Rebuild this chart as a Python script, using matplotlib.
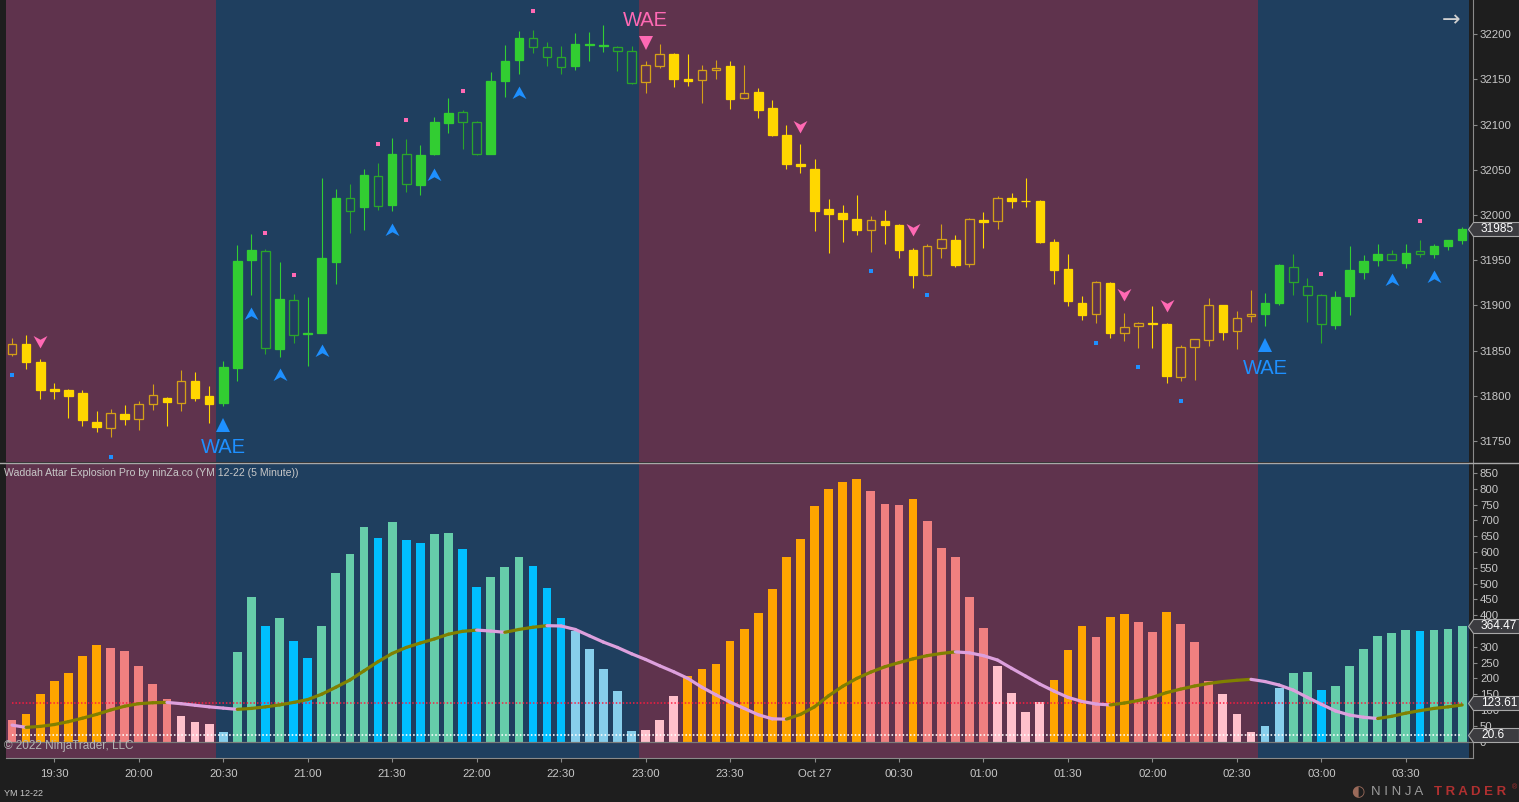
import numpy as np
import pandas as pd
import matplotlib
matplotlib.use('Agg')
import matplotlib.pyplot as plt
from matplotlib.path import Path
from matplotlib.collections import LineCollection
from matplotlib.transforms import blended_transform_factory

plt.rcParams['font.family'] = ['Liberation Sans', 'DejaVu Sans']

# ---- YM 12-22, 5 minute candles starting 19:15 ----
opens = [31846, 31857, 31837, 31808, 31806, 31803, 31771, 31764, 31780, 31774,
         31791, 31798, 31792, 31816, 31800, 31792, 31831, 31950, 31960, 31852,
         31906, 31868, 31870, 31948, 32019, 32009, 32043, 32011, 32068, 32033,
         32068, 32102, 32114, 32103, 32068, 32148, 32171, 32196, 32186, 32175,
         32165, 32188, 32187, 32186, 32182, 32147, 32165, 32178, 32151, 32149,
         32161, 32165, 32129, 32136, 32118, 32089, 32057, 32051, 32007, 32002,
         31996, 31984, 31993, 31989, 31961, 31934, 31964, 31972, 31946, 31995,
         31993, 32019, 32016, 32016, 31970, 31940, 31903, 31890, 31925, 31869,
         31877, 31881, 31880, 31821, 31854, 31862, 31900, 31872, 31888, 31890,
         31903, 31942, 31922, 31912, 31878, 31910, 31937, 31950, 31957, 31947,
         31960, 31957, 31966, 31972]
highs = [31864, 31867, 31841, 31814, 31808, 31806, 31783, 31785, 31790, 31794,
         31813, 31799, 31829, 31826, 31811, 31838, 31967, 31979, 31962, 31948,
         31913, 31909, 32041, 32029, 32034, 32051, 32058, 32085, 32084, 32077,
         32108, 32130, 32116, 32104, 32158, 32188, 32204, 32205, 32191, 32187,
         32201, 32202, 32210, 32187, 32187, 32170, 32189, 32179, 32178, 32166,
         32172, 32170, 32166, 32140, 32127, 32100, 32079, 32062, 32018, 32011,
         32022, 31999, 32006, 31990, 31964, 31968, 31990, 31978, 31997, 32003,
         32021, 32024, 32041, 32017, 31974, 31957, 31910, 31927, 31926, 31892,
         31882, 31899, 31881, 31856, 31863, 31908, 31900, 31894, 31917, 31914,
         31946, 31957, 31930, 31913, 31916, 31966, 31956, 31968, 31961, 31968,
         31972, 31968, 31972, 31987]
lows = [31844, 31830, 31797, 31797, 31775, 31767, 31760, 31754, 31768, 31762,
        31784, 31767, 31783, 31794, 31770, 31789, 31816, 31912, 31846, 31843,
        31859, 31833, 31869, 31924, 31980, 31983, 32006, 32005, 32025, 32022,
        32066, 32091, 32073, 32066, 32067, 32131, 32156, 32179, 32165, 32156,
        32160, 32170, 32180, 32159, 32145, 32135, 32163, 32142, 32143, 32124,
        32151, 32117, 32128, 32107, 32087, 32051, 32047, 31982, 31958, 31970,
        31978, 31959, 31968, 31953, 31919, 31933, 31953, 31942, 31943, 31964,
        31985, 32008, 32009, 31969, 31924, 31899, 31884, 31881, 31864, 31861,
        31853, 31853, 31814, 31816, 31817, 31855, 31862, 31852, 31882, 31877,
        31901, 31911, 31882, 31859, 31874, 31889, 31929, 31944, 31950, 31941,
        31954, 31953, 31961, 31968]
closes = [31857, 31837, 31807, 31805, 31800, 31773, 31766, 31781, 31774, 31791,
          31801, 31793, 31816, 31798, 31791, 31832, 31949, 31961, 31853, 31907,
          31867, 31869, 31953, 32019, 32005, 32044, 32010, 32067, 32034, 32066,
          32103, 32113, 32103, 32068, 32148, 32170, 32196, 32186, 32175, 32164,
          32189, 32189, 32188, 32182, 32146, 32166, 32178, 32151, 32148, 32161,
          32163, 32128, 32135, 32116, 32089, 32057, 32054, 32005, 32001, 31996,
          31983, 31995, 31989, 31961, 31934, 31966, 31973, 31945, 31996, 31992,
          32019, 32016, 32015, 31970, 31939, 31905, 31889, 31926, 31869, 31876,
          31881, 31880, 31822, 31854, 31863, 31901, 31871, 31886, 31891, 31903,
          31945, 31926, 31912, 31879, 31909, 31939, 31949, 31957, 31950, 31958,
          31957, 31966, 31972, 31985]

# trend regimes (first bar of each regime)
trend_start = [0, 15, 45, 89]
trend_dir = ['dn', 'up', 'dn', 'up']

# signal markers
blue_sq_bars = [0, 7, 61, 65, 77, 80, 83]
blue_sq_price = [31823, 31732, 31938, 31912, 31859, 31832, 31794]
pink_sq_bars = [18, 20, 26, 28, 32, 37, 93, 100]
pink_sq_price = [31980, 31934, 32079, 32105, 32137, 32226, 31935, 31993]
up_arrow_bars = [17, 19, 22, 27, 30, 36, 98, 101]
up_arrow_price = [31891, 31823, 31850, 31984, 32044, 32135, 31928, 31932]
dn_arrow_bars = [2, 56, 64, 79, 82]
dn_arrow_price = [31861, 32099, 31985, 31913, 31900]
wae_up_bars = [15, 89]
wae_up_price = [31768, 31856]
wae_dn_bars = [45]
wae_dn_price = [32190]

# WAE histogram
hist_vals = [68, 88, 150, 191, 216, 271, 306, 296, 286, 240,
             182, 134, 81, 61, 55, 30, 283, 459, 367, 390,
             318, 266, 367, 534, 595, 678, 646, 694, 638, 628,
             656, 659, 610, 489, 522, 552, 584, 555, 486, 392,
             351, 293, 230, 160, 33, 36, 68, 144, 207, 230,
             245, 319, 355, 407, 484, 583, 641, 745, 800, 821,
             831, 793, 753, 750, 768, 697, 613, 584, 457, 360,
             238, 155, 93, 126, 195, 289, 366, 332, 393, 403,
             380, 347, 410, 372, 314, 191, 150, 88, 30, 49,
             170, 216, 220, 163, 177, 238, 292, 335, 343, 352,
             350, 352, 355, 364.47]
hist_cols = list('C' 'OOOOOO' 'CCCCC' 'PPP' 'S' 'AADADDAAAADADDAADDAAADDD'
                 'SSSSS' 'PPP' 'OOOOOOOOOOOOO' 'CCC' 'O' 'CCCCC' 'PPPP' 'OOO'
                 'C' 'OO' 'CC' 'O' 'CCC' 'PPP' 'SS' 'AADAAAAAADAAA')
signal = [52, 45, 48, 54, 63, 74, 86, 100, 112, 120,
          123, 124, 120, 115, 110, 106, 102, 105, 110, 116,
          124, 133, 150, 172, 195, 224, 253, 279, 298, 312,
          325, 340, 349, 353, 350, 346, 355, 362, 367, 366,
          355, 335, 315, 298, 278, 260, 240, 221, 200, 172,
          148, 125, 105, 85, 72, 71, 86, 110, 145, 175,
          200, 220, 237, 250, 262, 272, 279, 284, 281, 272,
          258, 232, 207, 182, 160, 140, 127, 119, 116, 122,
          130, 140, 155, 166, 176, 184, 190, 194, 197, 190,
          179, 163, 140, 118, 97, 84, 77, 73, 80, 90,
          98, 105, 110, 116]
explosion_line = 123.61
dead_zone = 20.6

tick_labels = ['19:30', '20:00', '20:30', '21:00', '21:30', '22:00', '22:30', '23:00',
               '23:30', 'Oct 27', '00:30', '01:00', '01:30', '02:00', '02:30', '03:00', '03:30']

# ---- colours ----
BG = '#1e1e1e'
MAROON = '#5f334d'
NAVY = '#1f3f5f'
GOLD = '#ffd700'
GREEN = '#32cd32'
TXT = '#c8c8c8'
HCOL = {'O': '#ffa500', 'C': '#f08080', 'P': '#ffc0cb',
        'S': '#87ceeb', 'A': '#66cdaa', 'D': '#00bfff'}

n = len(closes)
times = pd.date_range('2022-10-26 19:15', periods=n, freq='5min')
hhmm = [t.strftime('%H:%M') for t in times]
tick_pos = [hhmm.index('00:00' if s == 'Oct 27' else s) for s in tick_labels]

trend = []
for k, s in enumerate(trend_start):
    e = trend_start[k + 1] if k + 1 < len(trend_start) else n
    trend += [trend_dir[k]] * (e - s)

W, H = 1519, 802
fig = plt.figure(figsize=(W / 100, H / 100), dpi=100, facecolor=BG)
L, R = 6, 1473
ax1 = fig.add_axes([L / W, 1 - 462 / H, (R - L) / W, 462 / H])
ax2 = fig.add_axes([L / W, 1 - 758 / H, (R - L) / W, (758 - 463) / H])

xl = (-0.43, 103.77)
for ax in (ax1, ax2):
    ax.set_facecolor(BG)
    ax.set_xlim(*xl)
    for k, s in enumerate(trend_start):
        e = trend_start[k + 1] - 0.5 if k + 1 < len(trend_start) else n - 0.5
        ax.axvspan(s - 0.5 if s > 0 else -1, e,
                   color=NAVY if trend_dir[k] == 'up' else MAROON, lw=0, zorder=0)
    for sp in ax.spines.values():
        sp.set_visible(False)
    ax.spines['right'].set_visible(True)
    ax.spines['right'].set_color('#8a8a8a')
    ax.yaxis.tick_right()
    ax.tick_params(axis='y', colors='#8a8a8a', labelcolor=TXT, length=3,
                   width=0.8, pad=2, labelsize=8.2)

# ---- candles ----
px = 0.72  # one pixel in points
for i in range(n):
    o, h, l, c = opens[i], highs[i], lows[i], closes[i]
    up = trend[i] == 'up'
    col = GREEN if up else GOLD
    dark = '#2aa52a' if up else '#d4a017'
    filled = (c >= o) if up else (c <= o)
    lo, hi = min(o, c), max(o, c)
    ax1.vlines(i, l, lo, color=col if filled else dark, lw=1.1 * px, zorder=3)
    ax1.vlines(i, hi, h, color=col if filled else dark, lw=1.1 * px, zorder=3)
    ax1.bar(i, max(hi - lo, 1.0), bottom=lo, width=0.61,
            color=col if filled else 'none',
            edgecolor=col if filled else dark, linewidth=1.3 * px, zorder=4)

ax1.set_ylim(31726.8, 32237.9)
ax1.set_yticks(np.arange(31750, 32201, 50))
ax1.set_xticks([])

chev_up = Path([(0, 1), (1, -0.8), (0, -0.25), (-1, -0.8), (0, 1)],
               [Path.MOVETO, Path.LINETO, Path.LINETO, Path.LINETO, Path.CLOSEPOLY])
chev_dn = Path([(0, -1), (1, 0.8), (0, 0.25), (-1, 0.8), (0, -1)],
               [Path.MOVETO, Path.LINETO, Path.LINETO, Path.LINETO, Path.CLOSEPOLY])

ax1.plot(blue_sq_bars, blue_sq_price, 's', ms=3.4, color='#1e90ff', mew=0, zorder=5)
ax1.plot(pink_sq_bars, pink_sq_price, 's', ms=3.4, color='#ff69b4', mew=0, zorder=5)
ax1.plot(up_arrow_bars, up_arrow_price, ls='none', marker=chev_up, ms=10,
         color='#1e90ff', mew=0, zorder=5)
ax1.plot(dn_arrow_bars, dn_arrow_price, ls='none', marker=chev_dn, ms=10,
         color='#ff69b4', mew=0, zorder=5)
ax1.plot(wae_up_bars, wae_up_price, '^', ms=10, color='#1e90ff', mew=0, zorder=5)
ax1.plot(wae_dn_bars, wae_dn_price, 'v', ms=10, color='#ff69b4', mew=0, zorder=5)
for b, p in zip(wae_up_bars, wae_up_price):
    ax1.annotate('WAE', (b, p), xytext=(0, -16.5), textcoords='offset points',
                 ha='center', va='center', fontsize=14.5, color='#1e90ff', zorder=6)
for b, p in zip(wae_dn_bars, wae_dn_price):
    ax1.annotate('WAE', (b, p), xytext=(0, 16.5), textcoords='offset points',
                 ha='center', va='center', fontsize=14.5, color='#ff69b4', zorder=6)

# ---- WAE panel ----
ax2.bar(np.arange(n), hist_vals, width=0.62, color=[HCOL[k] for k in hist_cols],
        lw=0, zorder=2)
ax2.axhline(0, color='#7a7a7a', lw=1.2 * px, zorder=2.2)
ax2.plot(np.arange(n), [explosion_line] * n, color='#ff1a40', lw=1.5 * px,
         ls=(0, (1, 1.3)), zorder=3)
ax2.plot(np.arange(n), [dead_zone] * n, color='#ffffff', lw=1.6 * px,
         ls=(0, (1, 1.3)), zorder=3)
pts = np.column_stack([np.arange(n), signal])
segs = np.stack([pts[:-1], pts[1:]], axis=1)
seg_cols = ['#808000' if signal[i + 1] >= signal[i] else '#dda0dd' for i in range(n - 1)]
ax2.add_collection(LineCollection(segs, colors=seg_cols, linewidths=3.2 * px,
                                  capstyle='round', zorder=4))
ax2.set_ylim(-52, 882)
wae_ticks = np.arange(0, 851, 50)
tags2 = [hist_vals[-1], explosion_line, dead_zone]
ax2.set_yticks(wae_ticks)
# labels fully hidden under the value tags are left blank, as in the reference
ax2.set_yticklabels(['' if any(0 < abs(t - v) < 24 and t > v - 20 and t != 0 for v in tags2)
                     else str(t) for t in wae_ticks])
ax2.spines['bottom'].set_visible(True)
ax2.spines['bottom'].set_color('#8a8a8a')
ax2.set_xticks(tick_pos)
ax2.set_xticklabels(tick_labels)
ax2.tick_params(axis='x', colors='#8a8a8a', labelcolor=TXT, length=3,
                width=0.8, pad=5, labelsize=8.2)

# ---- price tags on the right axis ----
tag = Path([(0, 0), (5, 7), (51, 7), (51, -7), (5, -7), (0, 0)],
           [Path.MOVETO] + [Path.LINETO] * 4 + [Path.CLOSEPOLY])


def price_tag(ax, y, txt):
    tr = blended_transform_factory(ax.transAxes, ax.transData)
    ax.plot([(1468 - L) / (R - L)], [y], transform=tr, marker=tag, ms=73.4,
            mfc='#3c3c40', mec='#a8a8a8', mew=0.8, clip_on=False, zorder=7)
    ax.text((1481 - L) / (R - L), y, txt, transform=tr, ha='left', va='center',
            fontsize=8.6, color='#ffffff', clip_on=False, zorder=8)


price_tag(ax1, closes[-1], f'{closes[-1]}')
price_tag(ax2, hist_vals[-1], f'{hist_vals[-1]:.2f}')
price_tag(ax2, explosion_line, f'{explosion_line:.2f}')
price_tag(ax2, dead_zone, f'{dead_zone}')

# ---- frame lines and texts ----
fig.add_artist(plt.Line2D([0, 1], [1 - 462.5 / H] * 2, color='#a8a8a8', lw=1.4 * px))
fig.text(4 / W, 1 - 473 / H, 'Waddah Attar Explosion Pro by ninZa.co (YM 12-22 (5 Minute))',
         color=TXT, fontsize=7.6, va='center', ha='left')
fig.text(4 / W, 1 - 746 / H, '\u00a9 2022 NinjaTrader, LLC', color='#b4b4b4', fontsize=8.5,
         va='center', ha='left')
fig.text(4 / W, 1 - 793 / H, 'YM 12-22', color=TXT, fontsize=6.5, va='center', ha='left')
fig.text(1451 / W, 1 - 20 / H, '\u2192', color='#d0d0d0', fontsize=16,
         family='DejaVu Sans', va='center', ha='center')
fig.text(1358 / W, 1 - 792 / H, '\u25d0', color='#9a6a5a', fontsize=11,
         family='DejaVu Sans', va='center', ha='center')
fig.text(1371 / W, 1 - 792 / H, 'N I N J A', color='#9a9a9a', fontsize=9.5,
         va='center', ha='left')
fig.text(1434 / W, 1 - 792 / H, 'T R A D E R', color='#b03030', fontsize=9.5,
         weight='bold', va='center', ha='left')
fig.text(1512 / W, 1 - 788 / H, '\u00ae', color='#b03030', fontsize=5,
         va='center', ha='left')

fig.savefig('out.png', dpi=100, facecolor=BG)
